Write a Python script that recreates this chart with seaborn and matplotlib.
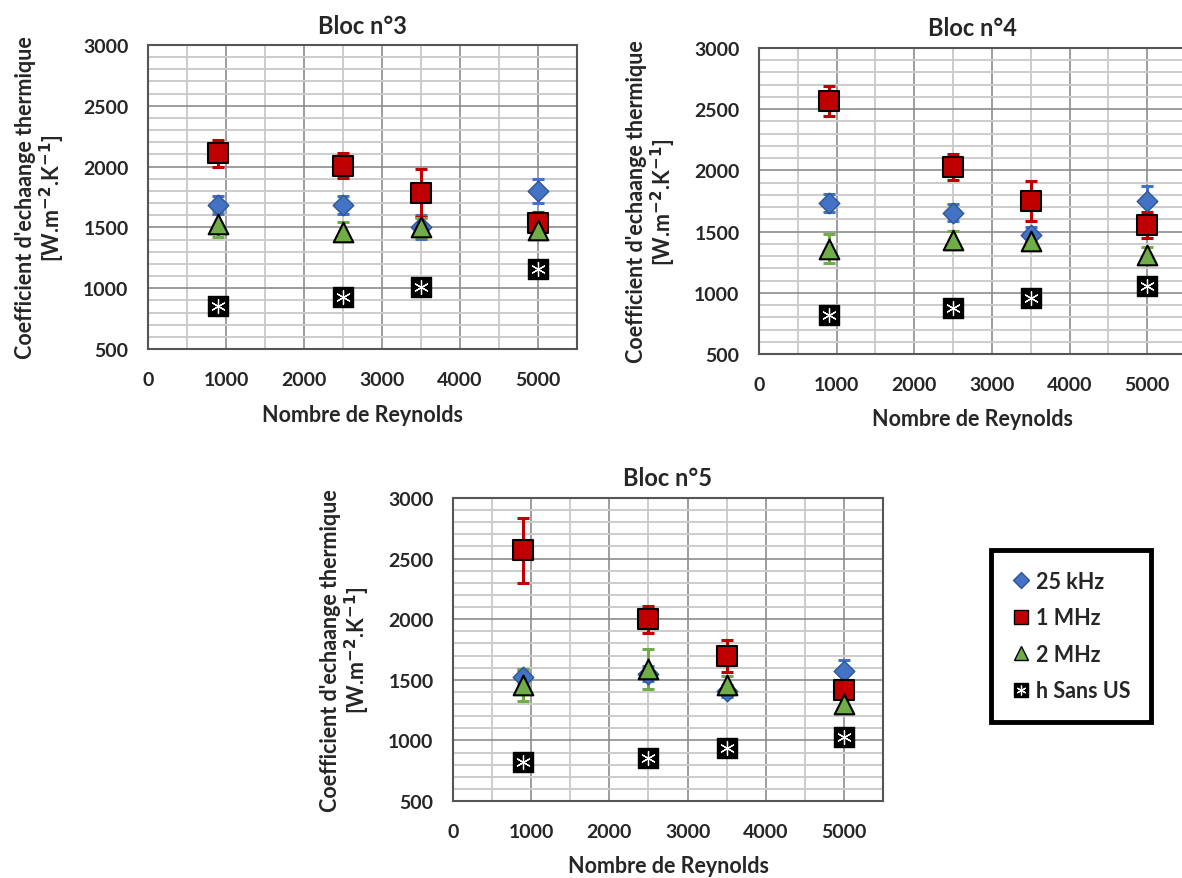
import numpy as np
import pandas as pd
import matplotlib
matplotlib.use('Agg')
import matplotlib.pyplot as plt
import seaborn as sns
from matplotlib.lines import Line2D
from matplotlib.ticker import MultipleLocator

# ── data ─────────────────────────────────────────────────────────────────────
reynolds = [900, 2500, 3500, 5000]
series = ['25 kHz', '1 MHz', '2 MHz', 'h Sans US']

bloc3_25k = [1684, 1684, 1501, 1802]
bloc3_25k_err = [75, 75, 100, 100]
bloc3_1m = [2110, 2008, 1783, 1534]
bloc3_1m_err = [110, 100, 200, 90]
bloc3_2m = [1528, 1465, 1501, 1478]
bloc3_2m_err = [110, 80, 80, 40]
bloc3_h = [856, 925, 1013, 1158]

bloc4_25k = [1733, 1654, 1475, 1748]
bloc4_25k_err = [75, 70, 60, 125]
bloc4_1m = [2567, 2025, 1750, 1554]
bloc4_1m_err = [120, 105, 160, 110]
bloc4_2m = [1361, 1430, 1422, 1307]
bloc4_2m_err = [120, 75, 50, 70]
bloc4_h = [819, 873, 960, 1052]

bloc5_25k = [1524, 1551, 1406, 1570]
bloc5_25k_err = [60, 60, 50, 90]
bloc5_1m = [2568, 2000, 1697, 1419]
bloc5_1m_err = [270, 110, 135, 80]
bloc5_2m = [1455, 1592, 1455, 1304]
bloc5_2m_err = [130, 165, 80, 50]
bloc5_h = [819, 852, 935, 1026]

blocs = {
    'Bloc n°3': (bloc3_25k, bloc3_25k_err, bloc3_1m, bloc3_1m_err, bloc3_2m, bloc3_2m_err, bloc3_h),
    'Bloc n°4': (bloc4_25k, bloc4_25k_err, bloc4_1m, bloc4_1m_err, bloc4_2m, bloc4_2m_err, bloc4_h),
    'Bloc n°5': (bloc5_25k, bloc5_25k_err, bloc5_1m, bloc5_1m_err, bloc5_2m, bloc5_2m_err, bloc5_h),
}

# ── style ────────────────────────────────────────────────────────────────────
sns.set_style('white')
plt.rcParams['font.family'] = ['Lato', 'DejaVu Sans']
plt.rcParams['font.weight'] = 'bold'

BLUE, RED, GREEN = '#4472C4', '#C00000', '#70AD47'
TXT = '#262626'
W, H = 1182, 879
fig = plt.figure(figsize=(W / 100, H / 100), dpi=100)


def px_axes(l, t, r, b):
    return fig.add_axes([l / W, 1 - b / H, (r - l) / W, (b - t) / H])


boxes = {
    'Bloc n°3': (148, 46, 577, 350),
    'Bloc n°4': (759, 49, 1186, 355),
    'Bloc n°5': (453, 499, 883, 802),
}

for name, (v25, e25, v1, e1, v2, e2, vh) in blocs.items():
    ax = px_axes(*boxes[name])
    ax.set_xlim(0, 5500)
    ax.set_ylim(500, 3000)
    ax.xaxis.set_major_locator(MultipleLocator(1000))
    ax.xaxis.set_minor_locator(MultipleLocator(500))
    ax.yaxis.set_major_locator(MultipleLocator(500))
    ax.yaxis.set_minor_locator(MultipleLocator(100))
    ax.grid(which='minor', color='#cccccc', lw=1.4, zorder=0)
    ax.grid(which='major', color='#8c8c8c', lw=1.2, zorder=0)
    ax.set_axisbelow(True)
    for sp in ax.spines.values():
        sp.set_color('#555555')
        sp.set_linewidth(1.5)
    ax.tick_params(axis='x', which='both', length=0, labelsize=14, pad=16)
    ax.tick_params(axis='y', which='both', length=0, labelsize=14, pad=14)
    for lab in ax.get_xticklabels() + ax.get_yticklabels():
        lab.set_fontweight('bold')
        lab.set_color(TXT)

    # error bars
    for vals, errs, col in ((v25, e25, BLUE), (v1, e1, RED), (v2, e2, GREEN)):
        ax.errorbar(reynolds, vals, yerr=errs, fmt='none', ecolor=col,
                    elinewidth=2.2, capsize=4, capthick=2.2, zorder=2)

    sns.scatterplot(x=reynolds, y=v25, marker='D', color=BLUE, edgecolor='#2f5597',
                    s=110, linewidth=1, ax=ax, zorder=3)
    sns.scatterplot(x=reynolds, y=v1, marker='s', color=RED, edgecolor='black',
                    s=190, linewidth=1.5, ax=ax, zorder=3)
    sns.scatterplot(x=reynolds, y=v2, marker='^', color=GREEN, edgecolor='black',
                    s=200, linewidth=1.5, ax=ax, zorder=3)
    sns.scatterplot(x=reynolds, y=vh, marker='s', color='black', edgecolor='black',
                    s=200, linewidth=1, ax=ax, zorder=3)
    sns.scatterplot(x=reynolds, y=vh, marker=(6, 2, 0), color='white', edgecolor='white',
                    s=100, linewidth=0.9, ax=ax, zorder=4)

    ax.set_title(name, fontsize=17, fontweight='bold', pad=9, color=TXT)
    ax.set_xlabel('Nombre de Reynolds', fontsize=15.5, fontweight='bold', labelpad=11, color=TXT)
    ax.set_ylabel("Coefficient d'echaange thermique\n[W.m$^{\\mathbf{-2}}$.K$^{\\mathbf{-1}}$]",
                  fontsize=15.5, fontweight='bold', labelpad=12, linespacing=1.05, color=TXT)

# ── legend ───────────────────────────────────────────────────────────────────
handles = [
    Line2D([], [], ls='none', marker='D', ms=8, mfc=BLUE, mec='#2f5597'),
    Line2D([], [], ls='none', marker='s', ms=10, mfc=RED, mec='black'),
    Line2D([], [], ls='none', marker='^', ms=10, mfc=GREEN, mec='black'),
    (Line2D([], [], ls='none', marker='s', ms=10, mfc='black', mec='black'),
     Line2D([], [], ls='none', marker=(6, 2, 0), ms=7, mfc='white', mec='white', mew=0.9)),
]
leg = fig.legend(handles, series, loc='center', bbox_to_anchor=(1071 / W, 1 - 637 / H),
                 frameon=True, fancybox=False, edgecolor='black', framealpha=1,
                 handlelength=0.8, handletextpad=0.3, labelspacing=0.72, borderpad=0.95,
                 borderaxespad=0, prop={'size': 15.5, 'weight': 'bold'})
leg.get_frame().set_linewidth(3.5)
for t in leg.get_texts():
    t.set_color(TXT)

fig.savefig('out.png', dpi=100)
